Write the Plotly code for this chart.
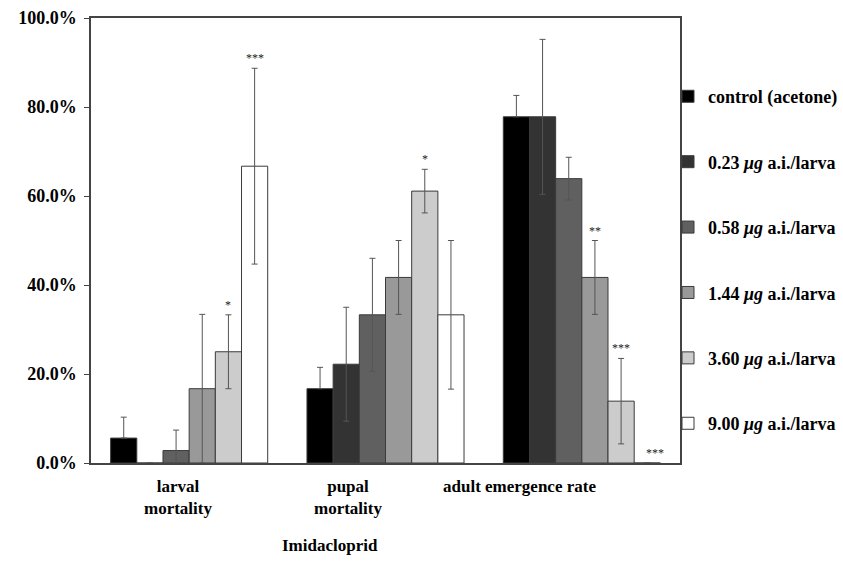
import plotly.graph_objects as go

categories = ["larval mortality", "pupal mortality", "adult emergence rate"]
cat_labels = ["larval<br>mortality", "pupal<br>mortality", "adult emergence rate"]
label_shift = [-11, -38, -62]

series_names = [
    "control (acetone)",
    "0.23 <i>μg</i> a.i./larva",
    "0.58 <i>μg</i> a.i./larva",
    "1.44 <i>μg</i> a.i./larva",
    "3.60 <i>μg</i> a.i./larva",
    "9.00 <i>μg</i> a.i./larva",
]
colors = ["#000000", "#333333", "#606060", "#999999", "#cccccc", "#ffffff"]

values = [
    [5.6, 16.7, 77.8],
    [0.0, 22.2, 77.8],
    [2.8, 33.3, 63.9],
    [16.7, 41.7, 41.7],
    [25.0, 61.1, 13.9],
    [66.7, 33.3, 0.0],
]
errors = [
    [4.7, 4.8, 4.8],
    [None, 12.8, 17.4],
    [4.6, 12.7, 4.8],
    [16.7, 8.3, 8.3],
    [8.3, 4.9, 9.6],
    [22.0, 16.7, None],
]
stars = [
    ["", "", ""],
    ["", "", ""],
    ["", "", ""],
    ["", "", "**"],
    ["*", "*", "***"],
    ["***", "", "***"],
]
y_ticks = [0, 20, 40, 60, 80, 100]
y_tick_text = ["0.0%", "20.0%", "40.0%", "60.0%", "80.0%", "100.0%"]

FONT = "Liberation Serif, Times New Roman, serif"
W, H = 843, 565
ML, MR, MT, MB = 91, 163, 18, 102
plot_w = W - ML - MR
plot_h = H - MT - MB
bargap = 0.2
bar_px = plot_w / len(categories) * (1 - bargap) / len(series_names)

fig = go.Figure()
for i, name in enumerate(series_names):
    errs = [e if e is not None else 0 for e in errors[i]]
    # the black control bars only show the upper whisker
    errs_minus = [0] * len(errs) if i == 0 else errs
    fig.add_trace(go.Bar(
        x=categories, y=values[i], name=name,
        legendgroup=f"g{i}",
        marker=dict(color=colors[i], line=dict(color="#3a3a3a", width=1)),
        error_y=dict(type="data", array=errs, arrayminus=errs_minus,
                     symmetric=False, visible=True,
                     color="#555555", thickness=1, width=3),
    ))

annotations = []
for i in range(len(series_names)):
    for j, cat in enumerate(categories):
        s = stars[i][j]
        if not s:
            continue
        top = values[i][j] + (errors[i][j] or 0)
        annotations.append(dict(
            x=cat, y=top, xref="x", yref="y", text=s, showarrow=False,
            xshift=(i - 2.5) * bar_px + (8 if values[i][j] == 0 else 0),
            yanchor="bottom", yshift=1,
            font=dict(family=FONT, size=12, color="#222222"),
        ))

for j, lab in enumerate(cat_labels):
    annotations.append(dict(
        x=categories[j], y=0, xref="x", yref="paper", text=lab,
        showarrow=False, xshift=label_shift[j], yanchor="top", yshift=-12,
        font=dict(family=FONT, size=17, color="#000000", weight="bold"),
    ))
annotations.append(dict(
    x=(330 - ML) / plot_w, y=-(545 - (H - MB)) / plot_h,
    xref="paper", yref="paper", text="Imidacloprid", showarrow=False,
    xanchor="center", yanchor="middle",
    font=dict(family=FONT, size=17, color="#000000", weight="bold"),
))

fig.update_layout(
    width=W, height=H,
    margin=dict(l=ML, r=MR, t=MT, b=MB, autoexpand=False),
    paper_bgcolor="white", plot_bgcolor="white",
    barmode="group", bargap=bargap, bargroupgap=0,
    showlegend=True,
    legend=dict(
        x=(668 - ML) / plot_w, y=0.865, xanchor="left", yanchor="top",
        traceorder="grouped", tracegroupgap=39,
        bgcolor="rgba(0,0,0,0)",
        font=dict(family=FONT, size=18, color="#000000", weight="bold"),
        itemwidth=30,
    ),
    xaxis=dict(
        showline=True, linecolor="#444444", linewidth=1.5, mirror=True,
        showticklabels=False, ticks="", showgrid=False,
    ),
    yaxis=dict(
        range=[0, 100], tickvals=y_ticks, ticktext=y_tick_text,
        showline=True, linecolor="#444444", linewidth=1.5, mirror=True,
        ticks="outside", ticklen=5, tickcolor="#444444",
        showgrid=False, zeroline=False, ticklabelstandoff=4,
        tickfont=dict(family=FONT, size=18, color="#000000", weight="bold"),
    ),
    annotations=annotations,
)

fig.write_html("out.html")
